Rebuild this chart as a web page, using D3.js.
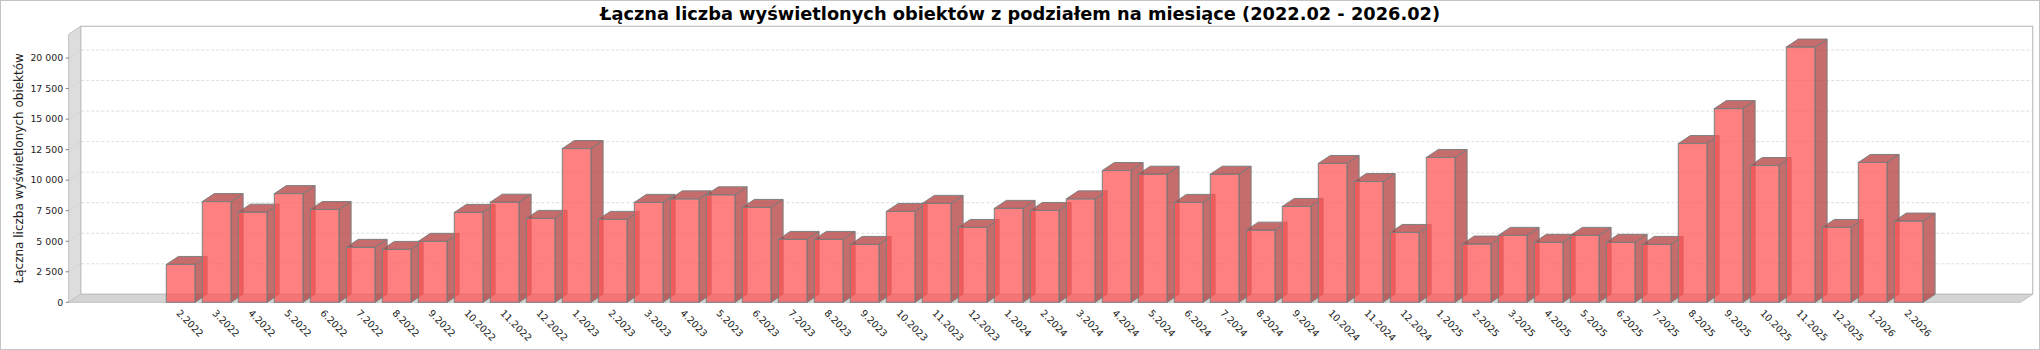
<!DOCTYPE html>
<html>
<head>
<meta charset="utf-8">
<script src="https://cdn.jsdelivr.net/npm/d3@7"></script>
<style>
  html, body { margin: 0; padding: 0; background: #fff; }
  svg { display: block; }
  text { font-family: "DejaVu Sans", sans-serif; }
</style>
</head>
<body>
<svg id="chart" width="2040" height="350"></svg>
<script>
const title = "Łączna liczba wyświetlonych obiektów z podziałem na miesiące (2022.02 - 2026.02)";
const yAxisLabel = "Łączna liczba wyświetlonych obiektów";
const categories = [
  "2.2022","3.2022","4.2022","5.2022","6.2022","7.2022","8.2022","9.2022","10.2022","11.2022","12.2022",
  "1.2023","2.2023","3.2023","4.2023","5.2023","6.2023","7.2023","8.2023","9.2023","10.2023","11.2023","12.2023",
  "1.2024","2.2024","3.2024","4.2024","5.2024","6.2024","7.2024","8.2024","9.2024","10.2024","11.2024","12.2024",
  "1.2025","2.2025","3.2025","4.2025","5.2025","6.2025","7.2025","8.2025","9.2025","10.2025","11.2025","12.2025",
  "1.2026","2.2026"
];
const values = [
  3100, 8250, 7380, 8900, 7600, 4500, 4330, 4990, 7360, 8200, 6870,
  12590, 6790, 8180, 8470, 8800, 7770, 5150, 5150, 4740, 7440, 8100, 6130,
  7690, 7520, 8470, 10790, 10490, 8180, 10490, 5910, 7850, 11370, 9890, 5720,
  11860, 4770, 5480, 4910, 5480, 4910, 4740, 13000, 15860, 11200, 20900, 6130,
  11450, 6650
];
const yTicks = [0, 2500, 5000, 7500, 10000, 12500, 15000, 17500, 20000];

// layout
const W = 2040, H = 350;
const DX = 12, DY = 8;                 // 3D depth offsets
const front = { left: 68.7, right: 2020.7, top: 34.3, bottom: 302.3 };
const back = { left: front.left + DX, right: front.right + DX, top: front.top - DY, bottom: front.bottom - DY };

const svg = d3.select("#chart");

// outer border
svg.append("rect").attr("x", 0.5).attr("y", 0.5).attr("width", W - 1).attr("height", H - 1)
  .attr("fill", "#fff").attr("stroke", "#c4c4c4").attr("stroke-width", 1);

// scales
const fw = front.right - front.left;
const x = d3.scaleBand().domain(categories)
  .range([front.left + 0.05 * fw, front.right - 0.05 * fw])
  .paddingInner(0.2).paddingOuter(0);
const yMax = d3.max(values) * 1.05;
const y = d3.scaleLinear().domain([0, yMax]).range([front.bottom, front.top]);

// back wall
svg.append("rect").attr("x", back.left).attr("y", back.top)
  .attr("width", back.right - back.left).attr("height", back.bottom - back.top)
  .attr("fill", "#fff").attr("stroke", "#c0c0c0").attr("stroke-width", 1.2);

// left wall
svg.append("polygon")
  .attr("points", [[front.left, front.top], [back.left, back.top], [back.left, back.bottom], [front.left, front.bottom]].map(p => p.join(",")).join(" "))
  .attr("fill", "#dddddd").attr("stroke", "#c0c0c0").attr("stroke-width", 1);

// floor
svg.append("polygon")
  .attr("points", [[front.left, front.bottom], [back.left, back.bottom], [back.right, back.bottom], [front.right, front.bottom]].map(p => p.join(",")).join(" "))
  .attr("fill", "#d4d4d4").attr("stroke", "#c0c0c0").attr("stroke-width", 1);

// gridlines (on left wall + back wall)
const grid = svg.append("g");
yTicks.filter(t => t > 0).forEach(t => {
  const yy = y(t);
  grid.append("path")
    .attr("d", `M${front.left},${yy}L${back.left},${yy - DY}L${back.right},${yy - DY}`)
    .attr("fill", "none").attr("stroke", "#c8c8c8").attr("stroke-width", 0.6)
    .attr("stroke-dasharray", "3,2");
});

// y axis ticks & labels
const fmt = d3.formatLocale({ decimal: ",", thousands: " ", grouping: [3], currency: ["", " zł"] }).format(",d");
const yAxis = svg.append("g");
yTicks.forEach(t => {
  const yy = y(t);
  yAxis.append("line").attr("x1", front.left - 3).attr("x2", front.left).attr("y1", yy).attr("y2", yy)
    .attr("stroke", "#808080").attr("stroke-width", 1);
  yAxis.append("text").attr("x", front.left - 5.5).attr("y", yy).attr("dy", "0.35em")
    .attr("text-anchor", "end").attr("font-size", 9.4).attr("fill", "#222").text(fmt(t));
});

// y axis title
svg.append("text")
  .attr("transform", `translate(22.5,${(front.top + front.bottom) / 2}) rotate(-90)`)
  .attr("text-anchor", "middle").attr("font-size", 12).attr("fill", "#222")
  .text(yAxisLabel);

// bars
const barFill = "#ff5555", barDark = "#b23b3b", alpha = 0.75, outline = "#7f7f7f";
const bars = svg.append("g");
categories.forEach((c, i) => {
  const v = values[i];
  const x0 = x(c), x1 = x0 + x.bandwidth();
  const yt = y(v), yb = y(0);
  const g = bars.append("g");
  g.append("rect").attr("x", x0).attr("y", yt).attr("width", x1 - x0).attr("height", yb - yt)
    .attr("fill", barFill).attr("fill-opacity", alpha).attr("stroke", outline).attr("stroke-width", 1);
  g.append("polygon")
    .attr("points", [[x1, yb], [x1, yt], [x1 + DX, yt - DY], [x1 + DX, yb - DY]].map(p => p.join(",")).join(" "))
    .attr("fill", barDark).attr("fill-opacity", alpha).attr("stroke", outline).attr("stroke-width", 1);
  g.append("polygon")
    .attr("points", [[x0, yt], [x0 + DX, yt - DY], [x1 + DX, yt - DY], [x1, yt]].map(p => p.join(",")).join(" "))
    .attr("fill", barDark).attr("fill-opacity", alpha).attr("stroke", outline).attr("stroke-width", 1);
});

// category labels
const xAxis = svg.append("g");
categories.forEach(c => {
  const cx = x(c) + x.bandwidth() / 2;
  xAxis.append("text")
    .attr("transform", `translate(${cx - 5},${front.bottom + 11.5}) rotate(45)`)
    .attr("text-anchor", "start").attr("font-size", 9.6).attr("fill", "#222")
    .text(c);
});

// title
svg.append("text").attr("x", W / 2).attr("y", 20)
  .attr("text-anchor", "middle").attr("font-size", 17.8).attr("font-weight", "bold").attr("fill", "#000")
  .text(title);
</script>
</body>
</html>
